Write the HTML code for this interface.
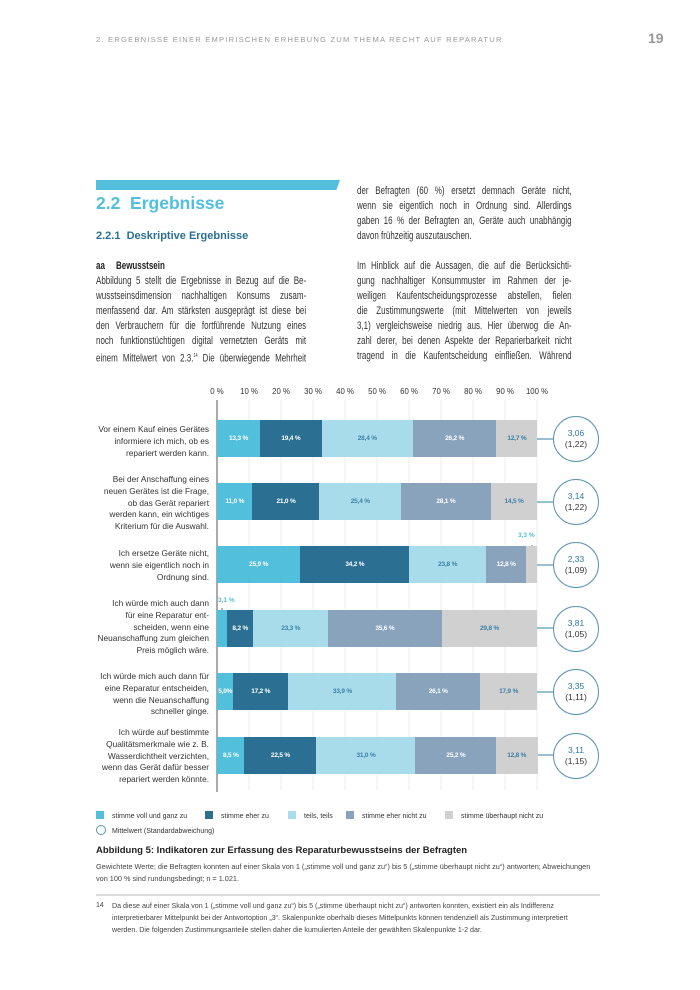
<!DOCTYPE html><html><head><meta charset="utf-8"><style>
*{margin:0;padding:0;box-sizing:border-box}
body{width:700px;height:990px;background:#fff;position:relative;font-family:"Liberation Sans",sans-serif;color:#333;overflow:hidden}
.a{position:absolute}
.p{font-size:10.8px;line-height:15px;color:#333;transform:scaleX(0.74);transform-origin:0 0}
.p div{white-space:nowrap;text-align:justify;text-align-last:justify;height:15px}
.p div.l{text-align-last:left}
.lab{position:absolute;right:491px;text-align:right;font-size:8.3px;line-height:11.8px;color:#333}
.seg{position:absolute;height:37px;font-size:6.5px;font-weight:bold;letter-spacing:-0.2px;display:flex;align-items:center;justify-content:center;color:#fff;white-space:nowrap}
.circ{position:absolute;width:46px;height:46px;border:1.3px solid #5a93b5;border-radius:50%;background:#fff;text-align:center;font-size:8.5px;line-height:11px;padding-top:11px;color:#333}
.circ b{color:#2b7aa8;font-weight:normal}
.tick{position:absolute;top:387px;font-size:7.8px;color:#333;width:30px;text-align:center}
.leg{position:absolute;font-size:7px;color:#333}
.sq{display:inline-block;width:8px;height:8px;vertical-align:-1px;margin-right:8px}
</style></head><body>
<div class="a" style="left:96px;top:35px;font-size:7.6px;letter-spacing:1.2px;color:#999">2. ERGEBNISSE EINER EMPIRISCHEN ERHEBUNG ZUM THEMA RECHT AUF REPARATUR</div>
<div class="a" style="left:648px;top:30px;font-size:14px;font-weight:bold;color:#999">19</div>
<div class="a" style="left:96px;top:180px;width:244px;height:10px;background:#52bfdc;clip-path:polygon(0 0,100% 0,98.5% 100%,0 100%)"></div>
<div class="a" style="left:96px;top:193px;font-size:17.5px;font-weight:bold;color:#52bfdc">2.2&nbsp; Ergebnisse</div>
<div class="a" style="left:96px;top:230px;font-size:11px;font-weight:bold;color:#2b6f93">2.2.1&nbsp; Deskriptive Ergebnisse</div>
<div class="a p" style="left:96px;top:259px;width:284px">
<div class="l"><b style="color:#222">aa&nbsp;&nbsp;&nbsp;&nbsp; Bewusstsein</b></div>
<div>Abbildung 5 stellt die Ergebnisse in Bezug auf die Be-</div>
<div>wusstseinsdimension nachhaltigen Konsums zusam-</div>
<div>menfassend dar. Am stärksten ausgeprägt ist diese bei</div>
<div>den Verbrauchern für die fortführende Nutzung eines</div>
<div>noch funktionstüchtigen digital vernetzten Geräts mit</div>
<div>einem Mittelwert von 2.3.<sup style="font-size:5px">14</sup> Die überwiegende Mehrheit</div>
</div>
<div class="a p" style="left:357px;top:184px;width:290px">
<div>der Befragten (60 %) ersetzt demnach Geräte nicht,</div>
<div>wenn sie eigentlich noch in Ordnung sind. Allerdings</div>
<div>gaben 16 % der Befragten an, Geräte auch unabhängig</div>
<div class="l">davon frühzeitig auszutauschen.</div>
<div></div>
<div>Im Hinblick auf die Aussagen, die auf die Berücksichti-</div>
<div>gung nachhaltiger Konsummuster im Rahmen der je-</div>
<div>weiligen Kaufentscheidungsprozesse abstellen, fielen</div>
<div>die Zustimmungswerte (mit Mittelwerten von jeweils</div>
<div>3,1) vergleichsweise niedrig aus. Hier überwog die An-</div>
<div>zahl derer, bei denen Aspekte der Reparierbarkeit nicht</div>
<div>tragend in die Kaufentscheidung einfließen. Während</div>
</div>
<svg class="a" style="left:0;top:0" width="700" height="990">
<g stroke="#ececec" stroke-width="1">
<line x1="249" y1="400" x2="249" y2="790"/><line x1="281" y1="400" x2="281" y2="790"/><line x1="313" y1="400" x2="313" y2="790"/><line x1="345" y1="400" x2="345" y2="790"/><line x1="377" y1="400" x2="377" y2="790"/><line x1="409" y1="400" x2="409" y2="790"/><line x1="441" y1="400" x2="441" y2="790"/><line x1="473" y1="400" x2="473" y2="790"/><line x1="505" y1="400" x2="505" y2="790"/><line x1="537" y1="400" x2="537" y2="790"/>
</g>
<line x1="217" y1="400" x2="217" y2="792" stroke="#555" stroke-width="1"/>
<g stroke="#5a93b5" stroke-width="1.2">
<line x1="537" y1="439" x2="553" y2="439"/><line x1="537" y1="502" x2="553" y2="502"/><line x1="537" y1="565" x2="553" y2="565"/><line x1="537" y1="628" x2="553" y2="628"/><line x1="537" y1="692" x2="553" y2="692"/><line x1="537" y1="755" x2="553" y2="755"/>
</g>
<line x1="532" y1="545" x2="532" y2="565" stroke="#444" stroke-width="0.8"/>
<line x1="222" y1="608" x2="222" y2="628" stroke="#444" stroke-width="0.8"/>
<line x1="96" y1="895" x2="600" y2="895" stroke="#bbb" stroke-width="1"/>
</svg>
<div class="tick" style="left:202px">0 %</div><div class="tick" style="left:234px">10 %</div><div class="tick" style="left:266px">20 %</div><div class="tick" style="left:298px">30 %</div><div class="tick" style="left:330px">40 %</div><div class="tick" style="left:362px">50 %</div><div class="tick" style="left:394px">60 %</div><div class="tick" style="left:426px">70 %</div><div class="tick" style="left:458px">80 %</div><div class="tick" style="left:490px">90 %</div><div class="tick" style="left:522px">100 %</div>
<div id="bars"></div>
<div class="lab" style="top:424px">Vor einem Kauf eines Gerätes<br>informiere ich mich, ob es<br>repariert werden kann.</div>
<div class="lab" style="top:474px">Bei der Anschaffung eines<br>neuen Gerätes ist die Frage,<br>ob das Gerät repariert<br>werden kann, ein wichtiges<br>Kriterium für die Auswahl.</div>
<div class="lab" style="top:548px">Ich ersetze Geräte nicht,<br>wenn sie eigentlich noch in<br>Ordnung sind.</div>
<div class="lab" style="top:598px">Ich würde mich auch dann<br>für eine Reparatur ent-<br>scheiden, wenn eine<br>Neuanschaffung zum gleichen<br>Preis möglich wäre.</div>
<div class="lab" style="top:671px">Ich würde mich auch dann für<br>eine Reparatur entscheiden,<br>wenn die Neuanschaffung<br>schneller ginge.</div>
<div class="lab" style="top:727px">Ich würde auf bestimmte<br>Qualitätsmerkmale wie z. B.<br>Wasserdichtheit verzichten,<br>wenn das Gerät dafür besser<br>repariert werden könnte.</div>
<div class="a" style="left:518px;top:532px;font-size:6.5px;font-weight:bold;color:#52bfdc">3,3 %</div>
<div class="a" style="left:218px;top:597px;font-size:6.5px;font-weight:bold;color:#52bfdc">3,1 %</div>
<div class="leg" style="left:96px;top:811px"><span class="sq" style="background:#52bfdc"></span>stimme voll und ganz zu</div>
<div class="leg" style="left:205px;top:811px"><span class="sq" style="background:#2b6f93"></span>stimme eher zu</div>
<div class="leg" style="left:288px;top:811px"><span class="sq" style="background:#a9dcea"></span>teils, teils</div>
<div class="leg" style="left:346px;top:811px"><span class="sq" style="background:#8aa3bd"></span>stimme eher nicht zu</div>
<div class="leg" style="left:445px;top:811px"><span class="sq" style="background:#d0d0d0"></span>stimme überhaupt nicht zu</div>
<div class="leg" style="left:96px;top:825px"><span style="display:inline-block;width:10px;height:10px;border:1px solid #5a93b5;border-radius:50%;vertical-align:-2px;margin-right:6px"></span>Mittelwert (Standardabweichung)</div>
<div class="a" style="left:96px;top:845px;font-size:9.5px;font-weight:bold;color:#222">Abbildung 5: Indikatoren zur Erfassung des Reparaturbewusstseins der Befragten</div>
<div class="a" style="left:96px;top:861px;width:540px;font-size:7.3px;line-height:12px;color:#444;white-space:nowrap">Gewichtete Werte; die Befragten konnten auf einer Skala von 1 („stimme voll und ganz zu“) bis 5 („stimme überhaupt nicht zu“) antworten; Abweichungen<br>von 100 % sind rundungsbedingt; n = 1.021.</div>
<div class="a" style="left:96px;top:900px;font-size:7px;line-height:12px;color:#444">14</div>
<div class="a" style="left:112px;top:900px;width:540px;font-size:7.1px;line-height:12px;color:#444;white-space:nowrap">Da diese auf einer Skala von 1 („stimme voll und ganz zu“) bis 5 („stimme überhaupt nicht zu“) antworten konnten, existiert ein als Indifferenz<br>interpretierbarer Mittelpunkt bei der Antwortoption „3“. Skalenpunkte oberhalb dieses Mittelpunkts können tendenziell als Zustimmung interpretiert<br>werden. Die folgenden Zustimmungsanteile stellen daher die kumulierten Anteile der gewählten Skalenpunkte 1-2 dar.</div>
<script>
var rows=[[420,[13.3,19.4,28.4,26.2,12.7],"3,06","1,22"],[483,[11.0,21.0,25.4,28.1,14.5],"3,14","1,22"],[546,[25.9,34.2,23.8,12.8,3.3],"2,33","1,09"],[610,[3.1,8.2,23.3,35.6,29.8],"3,81","1,05"],[673,[5.0,17.2,33.9,26.1,17.9],"3,35","1,11"],[737,[8.5,22.5,31.0,25.2,12.8],"3,11","1,15"]];
var cols=["#52bfdc","#2b6f93","#a9dcea","#8aa3bd","#d0d0d0"],tc=["#fff","#fff","#3b7fa8","#fff","#3b7fa8"];
var h="";rows.forEach(function(r){var x=217,s=r[1].reduce(function(a,b){return a+b});r[1].forEach(function(v,i){var w=v/s*320;var t=(v<4)?"":v.toFixed(1).replace(".",",")+(v<6?"%":" %");h+='<div class="seg" style="left:'+x.toFixed(1)+'px;top:'+r[0]+'px;width:'+(w+0.5).toFixed(1)+'px;background:'+cols[i]+';color:'+tc[i]+'">'+t+'</div>';x+=w;});
h+='<div class="circ" style="left:553px;top:'+(r[0]-4)+'px"><b>'+r[2]+'</b><br>('+r[3]+')</div>';});
document.getElementById("bars").innerHTML=h;
</script>
</body></html>
